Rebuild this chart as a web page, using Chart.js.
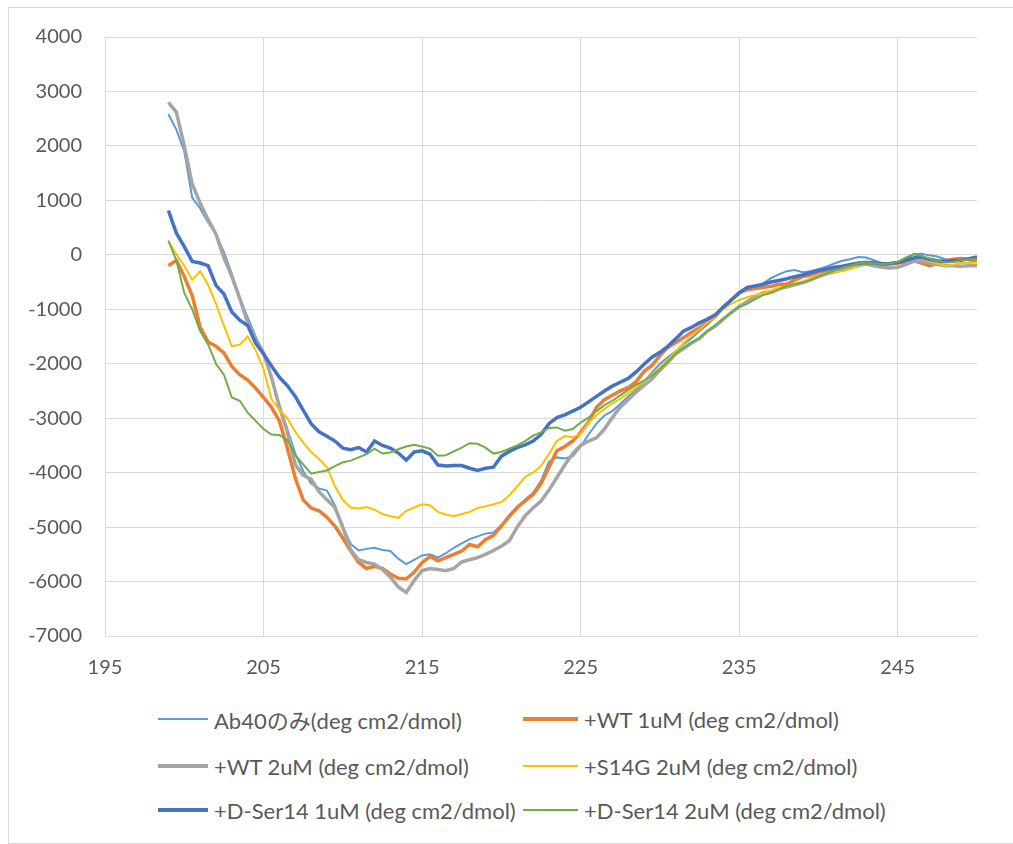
<!DOCTYPE html>
<html>
<head>
<meta charset="utf-8">
<script src="https://cdn.jsdelivr.net/npm/chart.js@4"></script>
<style>
  body { margin: 0; background: #fff; font-family: Lato, "Noto Sans CJK JP", sans-serif; }
  #frame { position: absolute; left: 8px; top: 7px; width: 1020px; height: 835px;
           border: 1px solid #d9d9d9; border-right: none; }
  #wrap { position: absolute; left: 0; top: 0; width: 1013px; height: 700px; }
  #legend { position: absolute; left: 0; top: 0; }
  .item { position: absolute; display: flex; align-items: center; color: #595959;
          font-size: 22px; white-space: nowrap; height: 30px; }
  .swatch { display: inline-block; margin-right: 6px; }
</style>
</head>
<body>
<div id="frame"></div>
<div id="wrap"><canvas id="cd"></canvas></div>
<div id="legend"></div>
<script>
// sampled every 0.5 nm from 199 to 250
const wavelength = Array.from({ length: 103 }, (_, i) => 199 + i * 0.5);
const xTicks = [195, 205, 215, 225, 235, 245];

const seriesNames = [
    'Ab40のみ(deg cm2/dmol)',
    '+WT 1uM (deg cm2/dmol)',
    '+WT 2uM (deg cm2/dmol)',
    '+S14G 2uM (deg cm2/dmol)',
    '+D-Ser14 1uM (deg cm2/dmol)',
    '+D-Ser14 2uM (deg cm2/dmol)'
];
const seriesColors = ['#5B9BD5', '#ED7D31', '#A5A5A5', '#FFC000', '#4472C4', '#70AD47'];
const seriesWidths = [2, 3.5, 3.5, 2, 3.5, 2];

const ab40 = [
    2580, 2300, 1900, 1050, 850, 600, 380, 50, -350, -800,
    -1150, -1500, -1800, -2250, -2750, -3200, -3650, -3970, -4200, -4290,
    -4330, -4600, -5000, -5310, -5430, -5400, -5380, -5420, -5440, -5580,
    -5680, -5600, -5520, -5500, -5560, -5480, -5380, -5300, -5220, -5170,
    -5120, -5100, -4970, -4780, -4620, -4500, -4370, -4150, -3800, -3720,
    -3740, -3700, -3520, -3300, -3100, -2950, -2870, -2740, -2600, -2480,
    -2330, -2160, -2000, -1880, -1770, -1640, -1530, -1400, -1280, -1140,
    -980, -830, -680, -600, -600, -530, -430, -360, -300, -280,
    -320, -300, -260, -220, -160, -110, -80, -40, -50, -100,
    -150, -170, -140, -90, 10, 20, -10, -30, -80, -110,
    -90, -70, -50
];
const wt1 = [
    -200, -100, -400, -750, -1330, -1600, -1680, -1800, -2050, -2200,
    -2300, -2450, -2620, -2800, -3050, -3550, -4100, -4500, -4650, -4700,
    -4820, -4980, -5200, -5440, -5650, -5760, -5720, -5760, -5860, -5940,
    -5950, -5830, -5650, -5540, -5620, -5560, -5500, -5440, -5320, -5360,
    -5230, -5150, -4980, -4800, -4640, -4520, -4400, -4200, -3900, -3600,
    -3520, -3420, -3260, -3070, -2800, -2660, -2580, -2500, -2440, -2330,
    -2140, -2030, -1850, -1700, -1610, -1520, -1420, -1340, -1240, -1130,
    -960, -830, -700, -640, -620, -600, -580, -540, -540, -460,
    -400, -370, -320, -290, -250, -220, -180, -150, -140, -150,
    -170, -170, -150, -130, -110, -150, -200, -160, -110, -80,
    -70, -90, -110
];
const wt2 = [
    2800, 2620, 2000, 1300, 950, 650, 380, -50, -400, -800,
    -1250, -1550, -1800, -2250, -2800, -3250, -3850, -4050, -4120, -4350,
    -4500, -4640, -5000, -5420, -5600, -5650, -5680, -5780, -5920, -6100,
    -6200, -5980, -5800, -5760, -5780, -5800, -5760, -5640, -5600, -5560,
    -5500, -5430, -5350, -5250, -5000, -4790, -4650, -4520, -4320, -4090,
    -3860, -3650, -3500, -3420, -3360, -3200, -2990, -2800, -2660, -2520,
    -2400, -2280, -2120, -1980, -1820, -1720, -1620, -1540, -1400, -1310,
    -1180, -1060, -950, -860, -760, -700, -680, -620, -590, -550,
    -510, -460, -400, -350, -310, -270, -230, -200, -170, -200,
    -230, -240, -230, -180, -120, -110, -150, -180, -200, -200,
    -210, -200, -200
];
const s14g = [
    250, 10, -200, -460, -300, -550, -900, -1300, -1680, -1650,
    -1500, -1750, -2100, -2650, -2850, -3000, -3250, -3450, -3620, -3750,
    -3900, -4250, -4500, -4640, -4660, -4630, -4680, -4760, -4800, -4830,
    -4700, -4640, -4580, -4600, -4720, -4770, -4800, -4760, -4720, -4650,
    -4620, -4580, -4540, -4420, -4250, -4080, -4000, -3880, -3660, -3420,
    -3330, -3350, -3290, -3080, -2940, -2830, -2730, -2640, -2540, -2440,
    -2320, -2200, -2070, -1920, -1780, -1620, -1480, -1370, -1240, -1140,
    -1000, -900, -830, -780, -740, -710, -660, -610, -570, -530,
    -490, -440, -380, -330, -310, -300, -260, -200, -160, -140,
    -170, -170, -140, -100, -60, -70, -110, -160, -200, -180,
    -150, -150, -140
];
const dser1 = [
    810, 400, 150, -120, -150, -200, -560, -720, -1050, -1200,
    -1300, -1620, -1820, -2040, -2250, -2400, -2600, -2850, -3100, -3250,
    -3330, -3420, -3550, -3580, -3540, -3620, -3420, -3500, -3550, -3640,
    -3770, -3620, -3600, -3660, -3860, -3880, -3870, -3870, -3920, -3960,
    -3920, -3900, -3700, -3610, -3540, -3490, -3420, -3300, -3100, -2990,
    -2940, -2870, -2800, -2700, -2600, -2500, -2410, -2340, -2270, -2150,
    -2010, -1880, -1790, -1680, -1540, -1400, -1330, -1250, -1180, -1100,
    -960, -830, -700, -600, -570, -540, -500, -470, -440, -400,
    -370, -330, -290, -260, -230, -210, -180, -160, -140, -150,
    -170, -160, -140, -100, -60, -40, -80, -110, -120, -110,
    -100, -70, -40
];
const dser2 = [
    260, -100, -700, -1000, -1400, -1640, -2000, -2200, -2620, -2680,
    -2900, -3050, -3200, -3300, -3310, -3400, -3680, -3850, -4020, -3990,
    -3960, -3880, -3810, -3780, -3720, -3660, -3560, -3650, -3630, -3570,
    -3520, -3490, -3520, -3560, -3690, -3680, -3610, -3540, -3460, -3470,
    -3540, -3650, -3620, -3560, -3500, -3420, -3320, -3260, -3180, -3170,
    -3230, -3200, -3080, -2990, -2870, -2760, -2680, -2580, -2480, -2390,
    -2310, -2220, -2100, -1960, -1810, -1700, -1610, -1520, -1400, -1290,
    -1170, -1060, -960, -900, -820, -740, -700, -640, -570, -540,
    -510, -460, -390, -340, -290, -240, -200, -160, -140, -160,
    -170, -160, -130, -50, 10, -20, -70, -110, -140, -130,
    -100, -80, -80
];
const seriesValues = [ab40, wt1, wt2, s14g, dser1, dser2];

const textColor = '#595959';
const gridColor = '#d9d9d9';

const datasets = seriesValues.map((vals, i) => ({
    label: seriesNames[i],
    data: vals.map((v, j) => ({ x: wavelength[j], y: v })),
    borderColor: seriesColors[i],
    backgroundColor: seriesColors[i],
    borderWidth: seriesWidths[i],
    pointRadius: 0,
    tension: 0,
    fill: false,
    order: seriesValues.length - i   // later series on top, like Excel
}));

const canvas = document.getElementById('cd');
canvas.width = 1013;
canvas.height = 700;

new Chart(canvas, {
    type: 'line',
    data: { datasets },
    options: {
        responsive: false,
        animation: false,
        layout: { padding: { left: 0, top: 37, right: 36, bottom: 0 } },
        scales: {
            x: {
                type: 'linear',
                min: 195,
                max: 250,
                afterBuildTicks: axis => { axis.ticks = xTicks.map(v => ({ value: v })); },
                afterFit: scale => { scale.height = 64; },
                grid: { color: gridColor, drawTicks: false },
                border: { color: gridColor },
                ticks: { color: textColor, font: { family: 'Lato', size: 20 }, padding: 20, maxRotation: 0,
                         callback: v => String(v) }
            },
            y: {
                min: -7000,
                max: 4000,
                afterFit: scale => { scale.width = 105; },
                grid: { color: gridColor, drawTicks: false },
                border: { color: gridColor },
                ticks: { stepSize: 1000, color: textColor, font: { family: 'Lato', size: 20 }, padding: 23,
                         callback: v => String(v) }
            }
        },
        plugins: {
            legend: { display: false },
            tooltip: { enabled: false }
        }
    }
});

// Excel-style two-column legend
const legendPos = [
    [158, 719], [523, 719],
    [158, 766], [523, 766],
    [158, 810], [523, 810]
];
const legend = document.getElementById('legend');
seriesNames.forEach((name, i) => {
    const item = document.createElement('div');
    item.className = 'item';
    item.style.left = legendPos[i][0] + 'px';
    item.style.top = (legendPos[i][1] - 15) + 'px';
    const sw = document.createElement('span');
    sw.className = 'swatch';
    sw.style.width = (i % 2 === 0 ? 50 : 55) + 'px';
    sw.style.height = seriesWidths[i] + 'px';
    sw.style.background = seriesColors[i];
    const txt = document.createElement('span');
    txt.textContent = name;
    item.appendChild(sw);
    item.appendChild(txt);
    legend.appendChild(item);
});
</script>
</body>
</html>
